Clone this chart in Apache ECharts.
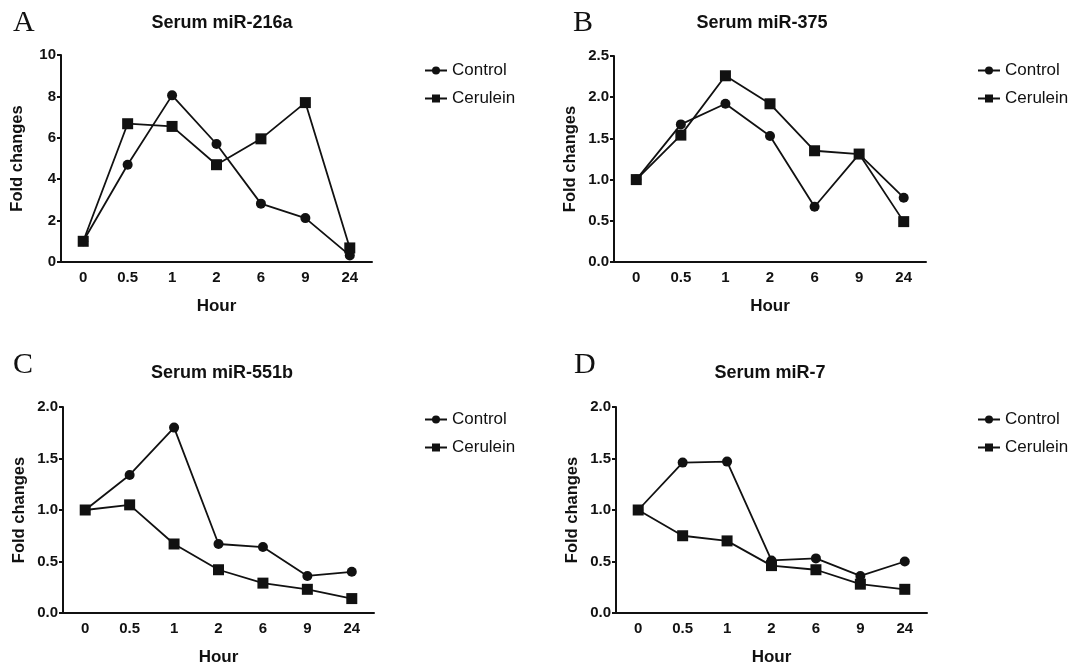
<!DOCTYPE html>
<html>
<head>
<meta charset="utf-8">
<script src="https://cdn.jsdelivr.net/npm/echarts@6/dist/echarts.min.js"></script>
<style>
  html, body { margin: 0; padding: 0; background: #fff; }
  #main { width: 1077px; height: 672px; }
</style>
</head>
<body>
<div id="main"></div>
<script>
// x轴类别（小时）
var hours = ['0', '0.5', '1', '2', '6', '9', '24'];
var panelTitles = ['Serum miR-216a', 'Serum miR-375', 'Serum miR-551b', 'Serum miR-7'];
var panelLetters = ['A', 'B', 'C', 'D'];

// 各面板数据
var controlA = [1.0, 4.7, 8.05, 5.7, 2.82, 2.12, 0.32];
var ceruleinA = [1.0, 6.68, 6.55, 4.7, 5.95, 7.7, 0.68];
var controlB = [1.0, 1.67, 1.92, 1.53, 0.67, 1.31, 0.78];
var ceruleinB = [1.0, 1.54, 2.26, 1.92, 1.35, 1.31, 0.49];
var controlC = [1.0, 1.34, 1.80, 0.67, 0.64, 0.36, 0.40];
var ceruleinC = [1.0, 1.05, 0.67, 0.42, 0.29, 0.23, 0.14];
var controlD = [1.0, 1.46, 1.47, 0.51, 0.53, 0.36, 0.50];
var ceruleinD = [1.0, 0.75, 0.70, 0.46, 0.42, 0.28, 0.23];

// y轴范围
var yMax = [10, 2.5, 2, 2];
var yStep = [2, 0.5, 0.5, 0.5];

var controls = [controlA, controlB, controlC, controlD];
var ceruleins = [ceruleinA, ceruleinB, ceruleinC, ceruleinD];

// 四个面板的位置
var grids = [
  {left: 61, top: 55, width: 311, height: 207},
  {left: 614, top: 56, width: 312, height: 206},
  {left: 63, top: 407, width: 311, height: 206},
  {left: 616, top: 407, width: 311, height: 206}
];
var titlePos = [[217, 9], [757, 9], [217, 359], [765, 359]];
var letterPos = [[8, 3], [568, 3], [8, 345], [569, 345]];
var legendPos = [[419, 57], [972, 57], [419, 406], [972, 406]];

var tickFont = '"Liberation Sans Narrow", "Liberation Sans", Arial, sans-serif';
var sansFont = '"Liberation Sans", Arial, sans-serif';
var ink = '#111';

var myChart = echarts.init(document.getElementById('main'));

var option = {
  backgroundColor: '#fff',
  animation: false,
  title: [],
  legend: [],
  grid: [],
  xAxis: [],
  yAxis: [],
  series: []
};

for (let i = 0; i < 4; i++) {
  option.grid.push(grids[i]);
  option.title.push({
    text: panelTitles[i],
    left: titlePos[i][0],
    top: titlePos[i][1],
    textAlign: 'center',
    textStyle: {fontFamily: sansFont, fontWeight: 'bold', fontSize: 18, color: ink}
  });
  option.title.push({
    text: panelLetters[i],
    left: letterPos[i][0],
    top: letterPos[i][1],
    textStyle: {fontFamily: '"Liberation Serif", "Times New Roman", serif', fontWeight: 'normal', fontSize: 30, color: ink}
  });
  option.legend.push({
    data: ['Control', 'Cerulein'],
    orient: 'vertical',
    left: legendPos[i][0],
    top: legendPos[i][1],
    itemWidth: 22,
    itemHeight: 10,
    itemGap: 11,
    textStyle: {fontFamily: sansFont, fontSize: 17, color: ink}
  });
  option.xAxis.push({
    type: 'category',
    gridIndex: i,
    data: hours,
    boundaryGap: true,
    name: 'Hour',
    nameLocation: 'middle',
    nameGap: 36,
    nameTextStyle: {fontFamily: sansFont, fontWeight: 'bold', fontSize: 17, color: ink},
    axisLine: {lineStyle: {color: ink, width: 2}},
    axisTick: {alignWithLabel: true, length: 5, lineStyle: {color: ink, width: 2}},
    axisLabel: {fontFamily: tickFont, fontWeight: 'bold', fontSize: 15, color: ink, margin: 8}
  });
  option.yAxis.push({
    type: 'value',
    gridIndex: i,
    min: 0,
    max: yMax[i],
    interval: yStep[i],
    name: 'Fold changes',
    nameLocation: 'middle',
    nameGap: 35,
    nameTextStyle: {fontFamily: sansFont, fontWeight: 'bold', fontSize: 16.5, color: ink},
    splitLine: {show: false},
    axisLine: {show: true, lineStyle: {color: ink, width: 2}},
    axisTick: {show: true, length: 4, lineStyle: {color: ink, width: 2}},
    axisLabel: {
      fontFamily: tickFont, fontWeight: 'bold', fontSize: 15, color: ink, margin: 5,
      formatter: (function (idx) {
        return function (v) { return idx === 0 ? String(v) : v.toFixed(1); };
      })(i)
    }
  });
  option.series.push({
    name: 'Control',
    type: 'line',
    xAxisIndex: i,
    yAxisIndex: i,
    data: controls[i],
    symbol: 'circle',
    symbolSize: 10,
    itemStyle: {color: ink},
    lineStyle: {color: ink, width: 1.8}
  });
  option.series.push({
    name: 'Cerulein',
    type: 'line',
    xAxisIndex: i,
    yAxisIndex: i,
    data: ceruleins[i],
    symbol: 'rect',
    symbolSize: 11,
    itemStyle: {color: ink},
    lineStyle: {color: ink, width: 1.8}
  });
}

myChart.setOption(option);
</script>
</body>
</html>
